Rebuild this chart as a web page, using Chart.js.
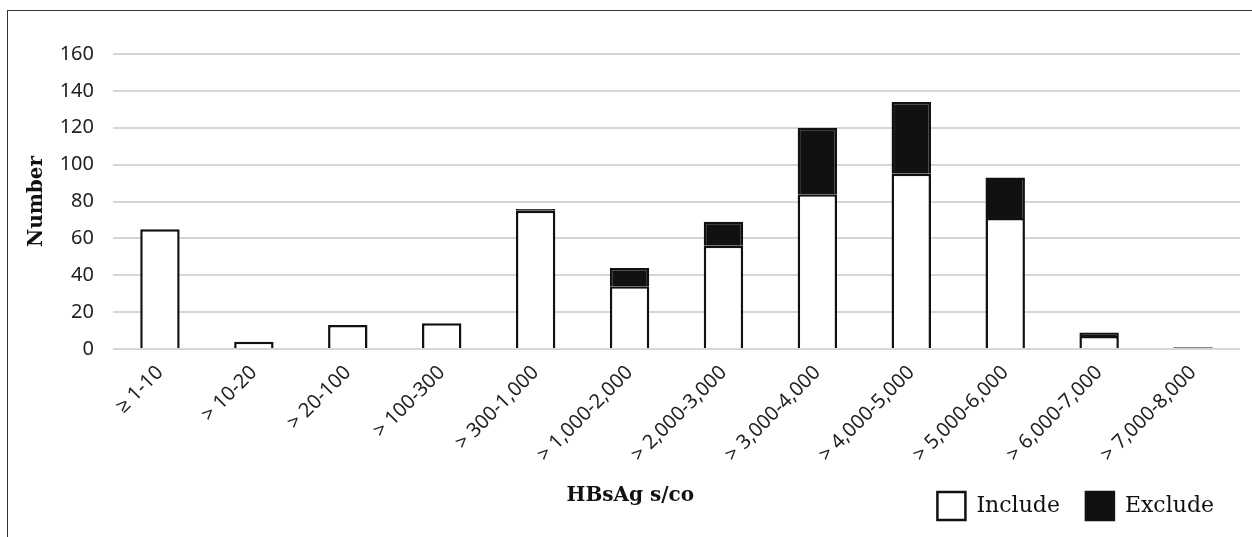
<!DOCTYPE html>
<html>
<head>
<meta charset="utf-8">
<script src="https://cdn.jsdelivr.net/npm/chart.js@4.4.1/dist/chart.umd.min.js"></script>
<style>
  html, body { margin: 0; padding: 0; background: #fff; overflow: hidden; }
  #wrap { position: relative; width: 1252px; height: 537px; }
  #marco { position: absolute; left: 7px; top: 10px; width: 1300px; height: 600px;
           border-left: 1.5px solid #333; border-top: 1.5px solid #333; }
  #grafica { position: absolute; left: 0; top: 0; }
</style>
</head>
<body>
<div id="wrap">
  <div id="marco"></div>
  <canvas id="grafica" width="1252" height="537"></canvas>
</div>
<script>
// Datos
const rangos = ['\u2265 1-10', '> 10-20', '> 20-100', '> 100-300', '> 300-1,000', '> 1,000-2,000',
  '> 2,000-3,000', '> 3,000-4,000', '> 4,000-5,000', '> 5,000-6,000', '> 6,000-7,000', '> 7,000-8,000'];
const incluidos = [65, 4, 13, 14, 75, 34, 56, 84, 95, 71, 7, 0];
const excluidos = [0, 0, 0, 0, 1, 10, 13, 36, 39, 22, 2, 1];
const ticksY = [0, 20, 40, 60, 80, 100, 120, 140, 160];

const fuenteSerif = '"DejaVu Serif", serif';
const fuenteSans = '"Noto Sans", "Liberation Sans", sans-serif';

// titulo del eje x dibujado a mano (no esta centrado en el area)
const tituloX = {
  id: 'tituloX',
  afterDraw(chart) {
    const ctx = chart.ctx;
    const area = chart.chartArea;
    ctx.save();
    ctx.font = 'bold 20px ' + fuenteSerif;
    ctx.fillStyle = '#111';
    ctx.textAlign = 'center';
    ctx.textBaseline = 'middle';
    ctx.fillText('HBsAg s/co', area.left + (area.right - area.left) * 0.459, 496);
    ctx.restore();
  }
};

try {
  const canvas = document.getElementById('grafica');
  const grafica = new Chart(canvas, {
    type: 'bar',
    data: {
      labels: rangos,
      datasets: [{
        label: 'Include',
        data: incluidos,
        backgroundColor: '#ffffff',
        borderColor: '#111111',
        borderWidth: 2.5,
        stack: 'hbsag'
      }, {
        label: 'Exclude',
        data: excluidos,
        backgroundColor: '#111111',
        borderColor: '#111111',
        borderWidth: 2.5,
        stack: 'hbsag'
      }]
    },
    options: {
      responsive: false,
      animation: false,
      layout: { padding: { top: 54, right: 12, left: 0, bottom: 7 } },
      datasets: { bar: { categoryPercentage: 1, barPercentage: 0.42 } },
      scales: {
        x: {
          stacked: true,
          grid: { display: false },
          border: { display: false },
          ticks: {
            maxRotation: 45,
            minRotation: 45,
            padding: 4,
            color: '#222',
            font: { family: fuenteSans, size: 20 }
          },
          afterFit: (scale) => { scale.height = 117; }
        },
        y: {
          stacked: true,
          min: 0,
          max: 160,
          afterBuildTicks: (scale) => { scale.ticks = ticksY.map(v => ({ value: v })); },
          grid: { color: '#d6d6d6', lineWidth: 2, drawTicks: false },
          border: { display: false },
          ticks: {
            padding: 19,
            color: '#222',
            font: { family: fuenteSans, size: 20 }
          },
          title: {
            display: true,
            text: 'Number',
            color: '#111',
            padding: { top: 25, bottom: 0 },
            font: { family: fuenteSerif, size: 20, weight: 'bold' }
          },
          afterFit: (scale) => { scale.width = 113; }
        }
      },
      plugins: {
        legend: {
          display: true,
          position: 'bottom',
          align: 'end',
          labels: {
            boxWidth: 28,
            boxHeight: 28,
            padding: 26,
            color: '#111',
            font: { family: fuenteSerif, size: 22 }
          }
        },
        tooltip: { enabled: false }
      }
    },
    plugins: [tituloX]
  });
} catch (error) {
  // console.error(error);
}
</script>
</body>
</html>
